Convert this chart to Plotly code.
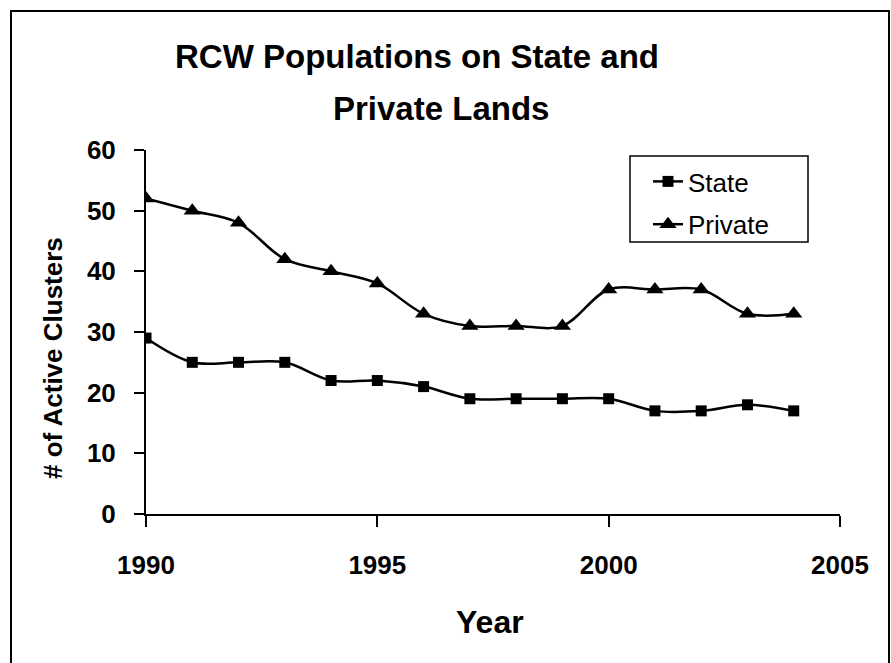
import plotly.graph_objects as go

# ---- data ----
years = [1990, 1991, 1992, 1993, 1994, 1995, 1996, 1997, 1998, 1999, 2000, 2001, 2002, 2003, 2004]
state = [29, 25, 25, 25, 22, 22, 21, 19, 19, 19, 19, 17, 17, 18, 17]
private = [52, 50, 48, 42, 40, 38, 33, 31, 31, 31, 37, 37, 37, 33, 33]
x_ticks = [1990, 1995, 2000, 2005]
y_ticks = [0, 10, 20, 30, 40, 50, 60]

title_line1 = "RCW Populations on State and"
title_line2 = "Private Lands"
x_title = "Year"
y_title = "# of Active Clusters"

FONT = "Liberation Sans, Arial, Helvetica, sans-serif"

fig = go.Figure()
fig.add_trace(go.Scatter(
    x=years, y=state, name="State", mode="lines+markers", legendgroup="a",
    line=dict(color="black", width=2.5, shape="spline", smoothing=1),
    marker=dict(symbol="square", size=11, color="black"),
))
fig.add_trace(go.Scatter(
    x=years, y=private, name="Private", mode="lines+markers", legendgroup="b",
    line=dict(color="black", width=2.5, shape="spline", smoothing=1),
    marker=dict(symbol="triangle-up", size=15, color="black"),
))

L, R, T, B = 146, 51, 150, 149
W, H = 891, 663
pw, ph = W - L - R, H - T - B


def px(xpix):
    return (xpix - L) / pw


def py(ypix):
    return (H - B - ypix) / ph


fig.update_layout(
    width=W, height=H,
    margin=dict(l=L, r=R, t=T, b=B),
    paper_bgcolor="white", plot_bgcolor="white",
    font=dict(family=FONT, color="black"),
    showlegend=True,
    legend=dict(
        x=px(648), y=py(158), xanchor="left", yanchor="top",
        borderwidth=0, bgcolor="rgba(0,0,0,0)",
        font=dict(size=26, family=FONT, color="black"),
        tracegroupgap=6, itemsizing="trace",
    ),
    xaxis=dict(
        range=[1990, 2005], tickmode="array", tickvals=x_ticks,
        ticktext=[str(v) for v in x_ticks],
        showgrid=False, zeroline=False, showline=True, linecolor="black", linewidth=2,
        ticks="outside", ticklen=11, tickwidth=2, tickcolor="black",
        tickfont=dict(size=26, family=FONT, color="black", weight="bold"),
        ticklabelstandoff=16,
    ),
    yaxis=dict(
        range=[0, 60], tickmode="array", tickvals=y_ticks,
        showgrid=False, zeroline=False, showline=True, linecolor="black", linewidth=2,
        ticks="outside", ticklen=10, tickwidth=2, tickcolor="black",
        tickfont=dict(size=26, family=FONT, color="black", weight="bold"),
        ticklabelstandoff=13,
    ),
    annotations=[
        dict(text=title_line1, xref="paper", yref="paper", x=px(417), y=py(56),
             xanchor="center", yanchor="middle", showarrow=False,
             font=dict(size=33, family=FONT, color="black", weight="bold")),
        dict(text=title_line2, xref="paper", yref="paper", x=px(441), y=py(109),
             xanchor="center", yanchor="middle", showarrow=False,
             font=dict(size=33, family=FONT, color="black", weight="bold")),
        dict(text=x_title, xref="paper", yref="paper", x=px(490), y=py(622),
             xanchor="center", yanchor="middle", showarrow=False,
             font=dict(size=32, family=FONT, color="black", weight="bold")),
        dict(text=y_title, xref="paper", yref="paper", x=px(53), y=py(358),
             xanchor="center", yanchor="middle", showarrow=False, textangle=-90,
             font=dict(size=26, family=FONT, color="black", weight="bold")),
    ],
    shapes=[
        dict(type="rect", xref="paper", yref="paper",
             x0=px(11), x1=px(889), y0=py(680), y1=py(11),
             line=dict(color="black", width=2), fillcolor="rgba(0,0,0,0)", layer="below"),
        dict(type="rect", xref="paper", yref="paper",
             x0=px(630), x1=px(808), y0=py(242), y1=py(156),
             line=dict(color="black", width=1.5), fillcolor="white", layer="below"),
    ],
)

fig.write_html("out.html")
